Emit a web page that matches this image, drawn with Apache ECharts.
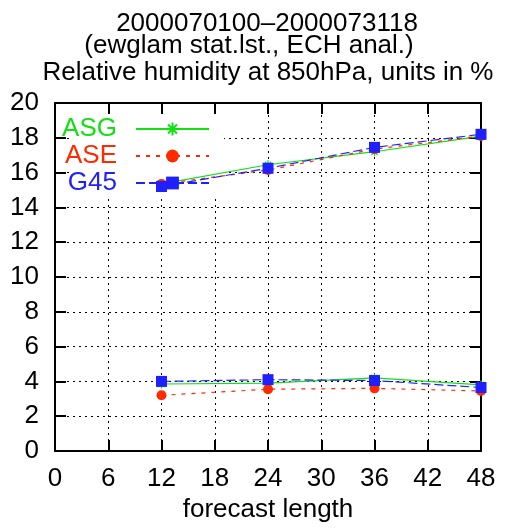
<!DOCTYPE html>
<html>
<head>
<meta charset="utf-8">
<script src="https://cdn.jsdelivr.net/npm/echarts@6/dist/echarts.min.js"></script>
<style>
html,body{margin:0;padding:0;background:#fff;}
#chart{width:509px;height:528px;}
</style>
</head>
<body>
<div id="chart"></div>
<script>
// ---- data ----
const xValues = [12, 24, 36, 48];
const asgUpper = [15.35, 16.45, 17.2, 18.1];
const aseUpper = [15.35, 16.15, 17.35, 18.1];
const g45Upper = [15.2, 16.25, 17.45, 18.2];
const asgLower = [3.85, 3.9, 4.2, 3.8];
const aseLower = [3.2, 3.55, 3.6, 3.45];
const g45Lower = [4.0, 4.1, 4.05, 3.65];
const titleLines = ['2000070100\u20132000073118', '(ewglam stat.lst., ECH anal.)', 'Relative humidity at 850hPa, units in %'];
const seriesNames = ['ASG', 'ASE', 'G45'];
const xLabel = 'forecast length';

const FONT = 'Liberation Sans, Arial, sans-serif';
const GREEN = '#11e011', RED = '#ff2a00', BLUE = '#2020ff';
const STAR = 'path://M0,5 L10,5 M5,0 L5,10 M1.5,1.5 L8.5,8.5 M8.5,1.5 L1.5,8.5';

function pts(ys){ return xValues.map((x,i)=>[x, ys[i]]); }

const styles = {
  ASG: {color: GREEN, symbol: STAR, symbolSize: 9, line: {type: 'solid', width: 1.2},
        item: {color: 'none', borderColor: GREEN, borderWidth: 1.3}},
  ASE: {color: RED, symbol: 'circle', symbolSize: 10, line: {type: [4, 6], width: 1.2},
        item: {color: RED}},
  G45: {color: BLUE, symbol: 'rect', symbolSize: 11, line: {type: [9, 4], width: 1.2},
        item: {color: BLUE}}
};
function mk(name, ys){
  const s = styles[name];
  return {
    name: name, type: 'line', data: pts(ys), color: s.color,
    symbol: s.symbol, symbolSize: s.symbolSize, showAllSymbol: true,
    lineStyle: {color: s.color, type: s.line.type, width: s.line.width},
    itemStyle: s.item, animation: false, z: 2
  };
}
const series = [
  mk('ASG', asgUpper), mk('ASE', aseUpper), mk('G45', g45Upper),
  mk('ASG', asgLower), mk('ASE', aseLower), mk('G45', g45Lower)
];

const legendRows = [129, 156, 183];
const legendColors = [GREEN, RED, BLUE];
const legends = seriesNames.map((n, i) => ({
  data: [n], right: 299, top: legendRows[i] - 13, orient: 'vertical', align: 'right',
  itemWidth: 73, itemHeight: 16, padding: 0, selectedMode: false,
  textStyle: {color: legendColors[i], fontSize: 26, fontFamily: FONT, padding: [0, 14, 0, 0]}
}));

const titleCenters = [267, 249, 268];
const titleTops = [11, 33, 60];
const titles = titleLines.map((t, i) => ({
  text: t, left: titleCenters[i], top: titleTops[i], textAlign: 'center', padding: 0,
  textStyle: {fontSize: 26, fontWeight: 'normal', color: '#000', fontFamily: FONT}
}));

const tickStyle = {show: true, inside: true, length: 11, lineStyle: {color: '#000', width: 2}};
const gridLine = {show: true, lineStyle: {color: '#000', type: [2, 4], width: 1}};
const axisLine = {show: true, onZero: false, lineStyle: {color: '#000', width: 2}};

const option = {
  animation: false,
  backgroundColor: '#fff',
  title: titles,
  legend: legends,
  grid: {left: 55, right: 28, top: 103, bottom: 72, containLabel: false},
  xAxis: [
    {type: 'value', min: 0, max: 48, interval: 6, position: 'bottom',
     axisLine: axisLine, axisTick: tickStyle, splitLine: gridLine,
     axisLabel: {fontSize: 26, color: '#000', fontFamily: FONT, margin: 15},
     name: xLabel, nameLocation: 'middle', nameGap: 46,
     nameTextStyle: {fontSize: 26, color: '#000', fontFamily: FONT}},
    {type: 'value', min: 0, max: 48, interval: 6, position: 'top',
     axisLine: axisLine, axisTick: tickStyle, splitLine: {show: false},
     axisLabel: {show: false}}
  ],
  yAxis: [
    {type: 'value', min: 0, max: 20, interval: 2, position: 'left',
     axisLine: axisLine, axisTick: tickStyle, splitLine: gridLine,
     axisLabel: {fontSize: 26, color: '#000', fontFamily: FONT, margin: 16}},
    {type: 'value', min: 0, max: 20, interval: 2, position: 'right',
     axisLine: axisLine, axisTick: tickStyle, splitLine: {show: false},
     axisLabel: {show: false}}
  ],
  graphic: [
    {type: 'rect', shape: {x: 69, y: 115, width: 155, height: 80},
     style: {fill: '#fff'}, z: 1, silent: true}
  ],
  series: series
};

const chart = echarts.init(document.getElementById('chart'), null, {renderer: 'canvas'});
chart.setOption(option);
</script>
</body>
</html>
